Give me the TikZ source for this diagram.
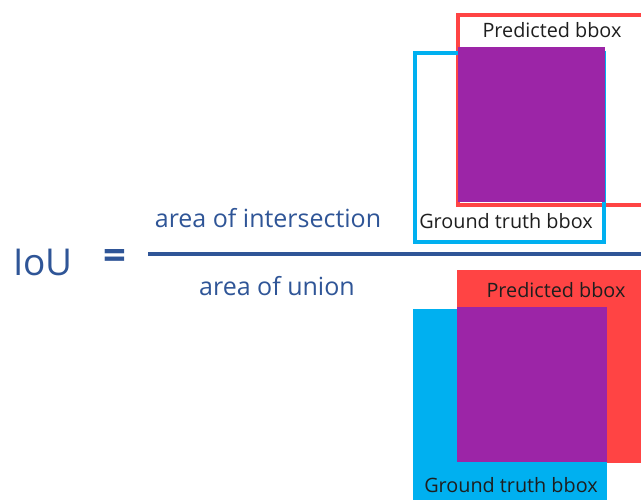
\documentclass[tikz,border=0pt]{standalone}
\usepackage{fontspec}
\setmainfont{Open Sans}
\definecolor{predred}{HTML}{FF4444}
\definecolor{gtblue}{HTML}{00B0F0}
\definecolor{overlap}{HTML}{9C25A7}
\definecolor{eqblue}{HTML}{2F5597}
\definecolor{labelc}{HTML}{1E1E1E}
\begin{document}
\begin{tikzpicture}[x=1pt,y=-1pt,
  outline/.style={draw, line width=3.6pt, fill=none, inner sep=0pt, anchor=north west},
  solid box/.style={draw=none, inner sep=0pt, anchor=north west},
  boxlabel/.style={text=labelc, font=\fontsize{19.8}{22}\selectfont, inner sep=0pt},
  eqtext/.style={text=eqblue, inner sep=0pt},
  fracline/.style={draw=eqblue, line width=4pt}]
\useasboundingbox (0,0) rectangle (641,500);
\clip (0,0) rectangle (641,500);
\fill[white] (0,0) rectangle (641,500);

% ---- top panel: intersection ----
\node[outline, draw=predred, minimum width=244pt, minimum height=190.5pt] (predT) at (456,13) {};
\node[outline, draw=gtblue, minimum width=189pt, minimum height=189pt] (gtT) at (413,51) {};
\node[solid box, fill=overlap, minimum width=147pt, minimum height=155pt] (interT) at (457.5,47) {};
\node[boxlabel] (predTlab) at (552,30) {Predicted bbox};
\node[boxlabel] (gtTlab) at (506,221) {Ground truth bbox};

% ---- bottom panel: union ----
\node[solid box, fill=predred, minimum width=243pt, minimum height=193pt] (predB) at (457,270) {};
\node[solid box, fill=gtblue, minimum width=194pt, minimum height=211pt] (gtB) at (413,309) {};
\node[solid box, fill=overlap, minimum width=150pt, minimum height=155pt] (interB) at (457,307) {};
\node[boxlabel] (predBlab) at (556,290) {Predicted bbox};
\node[boxlabel] (gtBlab) at (511,485) {Ground truth bbox};

% ---- formula ----
\node[eqtext, font=\fontsize{37}{40}\selectfont] (iou) at (43,262) {IoU};
\node[eqtext, font=\fontsize{40}{44}\selectfont\bfseries] (eq) at (115,260) {=};
\coordinate (fracL) at (148,254);
\coordinate (fracR) at (660,254);
\draw[fracline] (fracL) -- (fracR);
\node[eqtext, font=\fontsize{25}{28}\selectfont] (num) at (268,218) {area of intersection};
\node[eqtext, font=\fontsize{25}{28}\selectfont] (den) at (277,286) {area of union};
\end{tikzpicture}
\end{document}
